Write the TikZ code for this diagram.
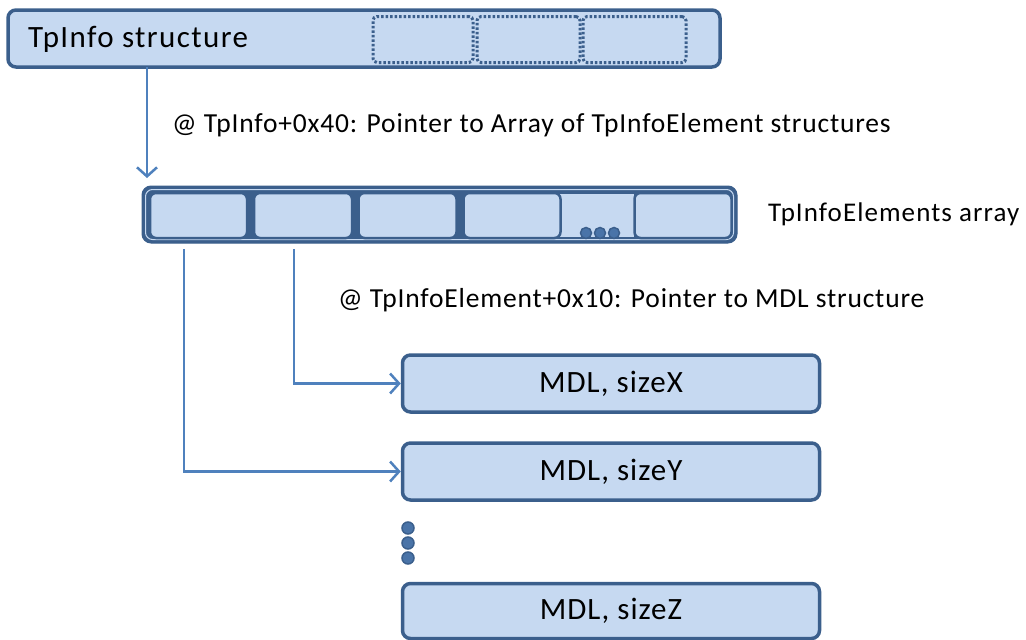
\documentclass[tikz,border=0pt]{standalone}
\usepackage{fontspec}
\setmainfont{Carlito}
\usetikzlibrary{arrows.meta}
\definecolor{boxfill}{HTML}{C6D9F1}
\definecolor{boxline}{HTML}{3B5F8C}
\definecolor{linkline}{HTML}{4F81BD}
\definecolor{dotfill}{HTML}{4A74A8}
\newfontfamily\notefont[LetterSpace=3]{Carlito}
\newfontfamily\titlefont[LetterSpace=4.5]{Carlito}
\newfontfamily\mdlfont[LetterSpace=3.2]{Carlito}
\newfontfamily\arrfont[LetterSpace=4]{Carlito}
\tikzset{
  box/.style={draw=boxline, fill=boxfill, line width=3.5pt, rounded corners=8pt, inner sep=0pt},
  slot/.style={draw=boxline, line width=3pt, dash pattern=on 2.5pt off 2pt, rounded corners=4pt, inner sep=0pt, minimum width=100pt, minimum height=46pt},
  cell/.style={draw=boxline, fill=boxfill, line width=2.5pt, rounded corners=6pt, inner sep=0pt, minimum height=45pt},
  link/.style={draw=linkline, line width=2.5pt, -{Straight Barb[length=9pt, width=20pt, line width=2.5pt]}},
  label/.style={anchor=west, inner sep=0pt, font=\notefont\fontsize{27.5}{32}\selectfont},
  mdl/.style={box, minimum width=417pt, minimum height=57pt, font=\mdlfont\fontsize{31}{36}\selectfont},
  dot/.style={circle, draw=boxline, fill=dotfill, line width=1.5pt, inner sep=0pt, minimum size=11pt},
}
\begin{document}
\begin{tikzpicture}[x=1pt, y=-1pt]
\useasboundingbox (0,0) rectangle (1026,640);

% TpInfo structure with its fields
\node[box, minimum width=712pt, minimum height=57pt] (tpinfo) at (364,38.5) {};
\node[font=\titlefont\fontsize{31}{36}\selectfont, anchor=west, inner sep=0pt] (tpname) at (28,39) {TpInfo structure};
\node[slot] (f1) at (423,39.5) {};
\node[slot, minimum width=103pt] (f2) at (528.5,39.5) {};
\node[slot, minimum width=103pt] (f3) at (634.5,39.5) {};

% array of TpInfoElement structures
\node[draw=boxline, fill=boxline, line width=1pt, rounded corners=9pt, minimum width=595pt, minimum height=57pt, inner sep=0pt] (arr) at (439.5,214.5) {};
\draw[boxfill, line width=1pt, rounded corners=7pt] (145.5,189.5) rectangle (733.5,239.5);
\fill[boxfill] (560,194) rectangle (634,237);
\node[cell, minimum width=97pt] (c1) at (198.5,215.5) {};
\node[cell, minimum width=98pt] (c2) at (303,215.5) {};
\node[cell, minimum width=98pt] (c3) at (407.5,215.5) {};
\node[cell, minimum width=97pt] (c4) at (512,215.5) {};
\node[cell, minimum width=97pt] (c5) at (683,215.5) {};
\node[dot] (d1) at (586,233) {};
\node[dot] (d2) at (600,233) {};
\node[dot] (d3) at (614,233) {};
\node[label, font=\arrfont\fontsize{27}{32}\selectfont] (arrlabel) at (768,214) {TpInfoElements array};

% MDL structures
\node[mdl] (mx) at (611,383.5) {MDL, sizeX};
\node[mdl] (my) at (611,471.5) {MDL, sizeY};
\node[mdl, minimum height=55pt] (mz) at (611,611) {MDL, sizeZ};
\node[dot, minimum size=12pt] (v1) at (408,528) {};
\node[dot, minimum size=12pt] (v2) at (408,543) {};
\node[dot, minimum size=12pt] (v3) at (408,558) {};

% pointers
\coordinate (p0) at (147,67);
\draw[link] (p0) -- (147,178);
\node[label] (lbl1) at (172,125) {@ TpInfo+0x40: Pointer to Array of TpInfoElement structures};
\coordinate (s2) at (294,249);
\draw[link] (s2) |- (mx.west);
\coordinate (s1) at (184,249);
\draw[link] (s1) |- (my.west);
\node[label] (lbl2) at (338,300) {@ TpInfoElement+0x10: Pointer to MDL structure};
\end{tikzpicture}
\end{document}
